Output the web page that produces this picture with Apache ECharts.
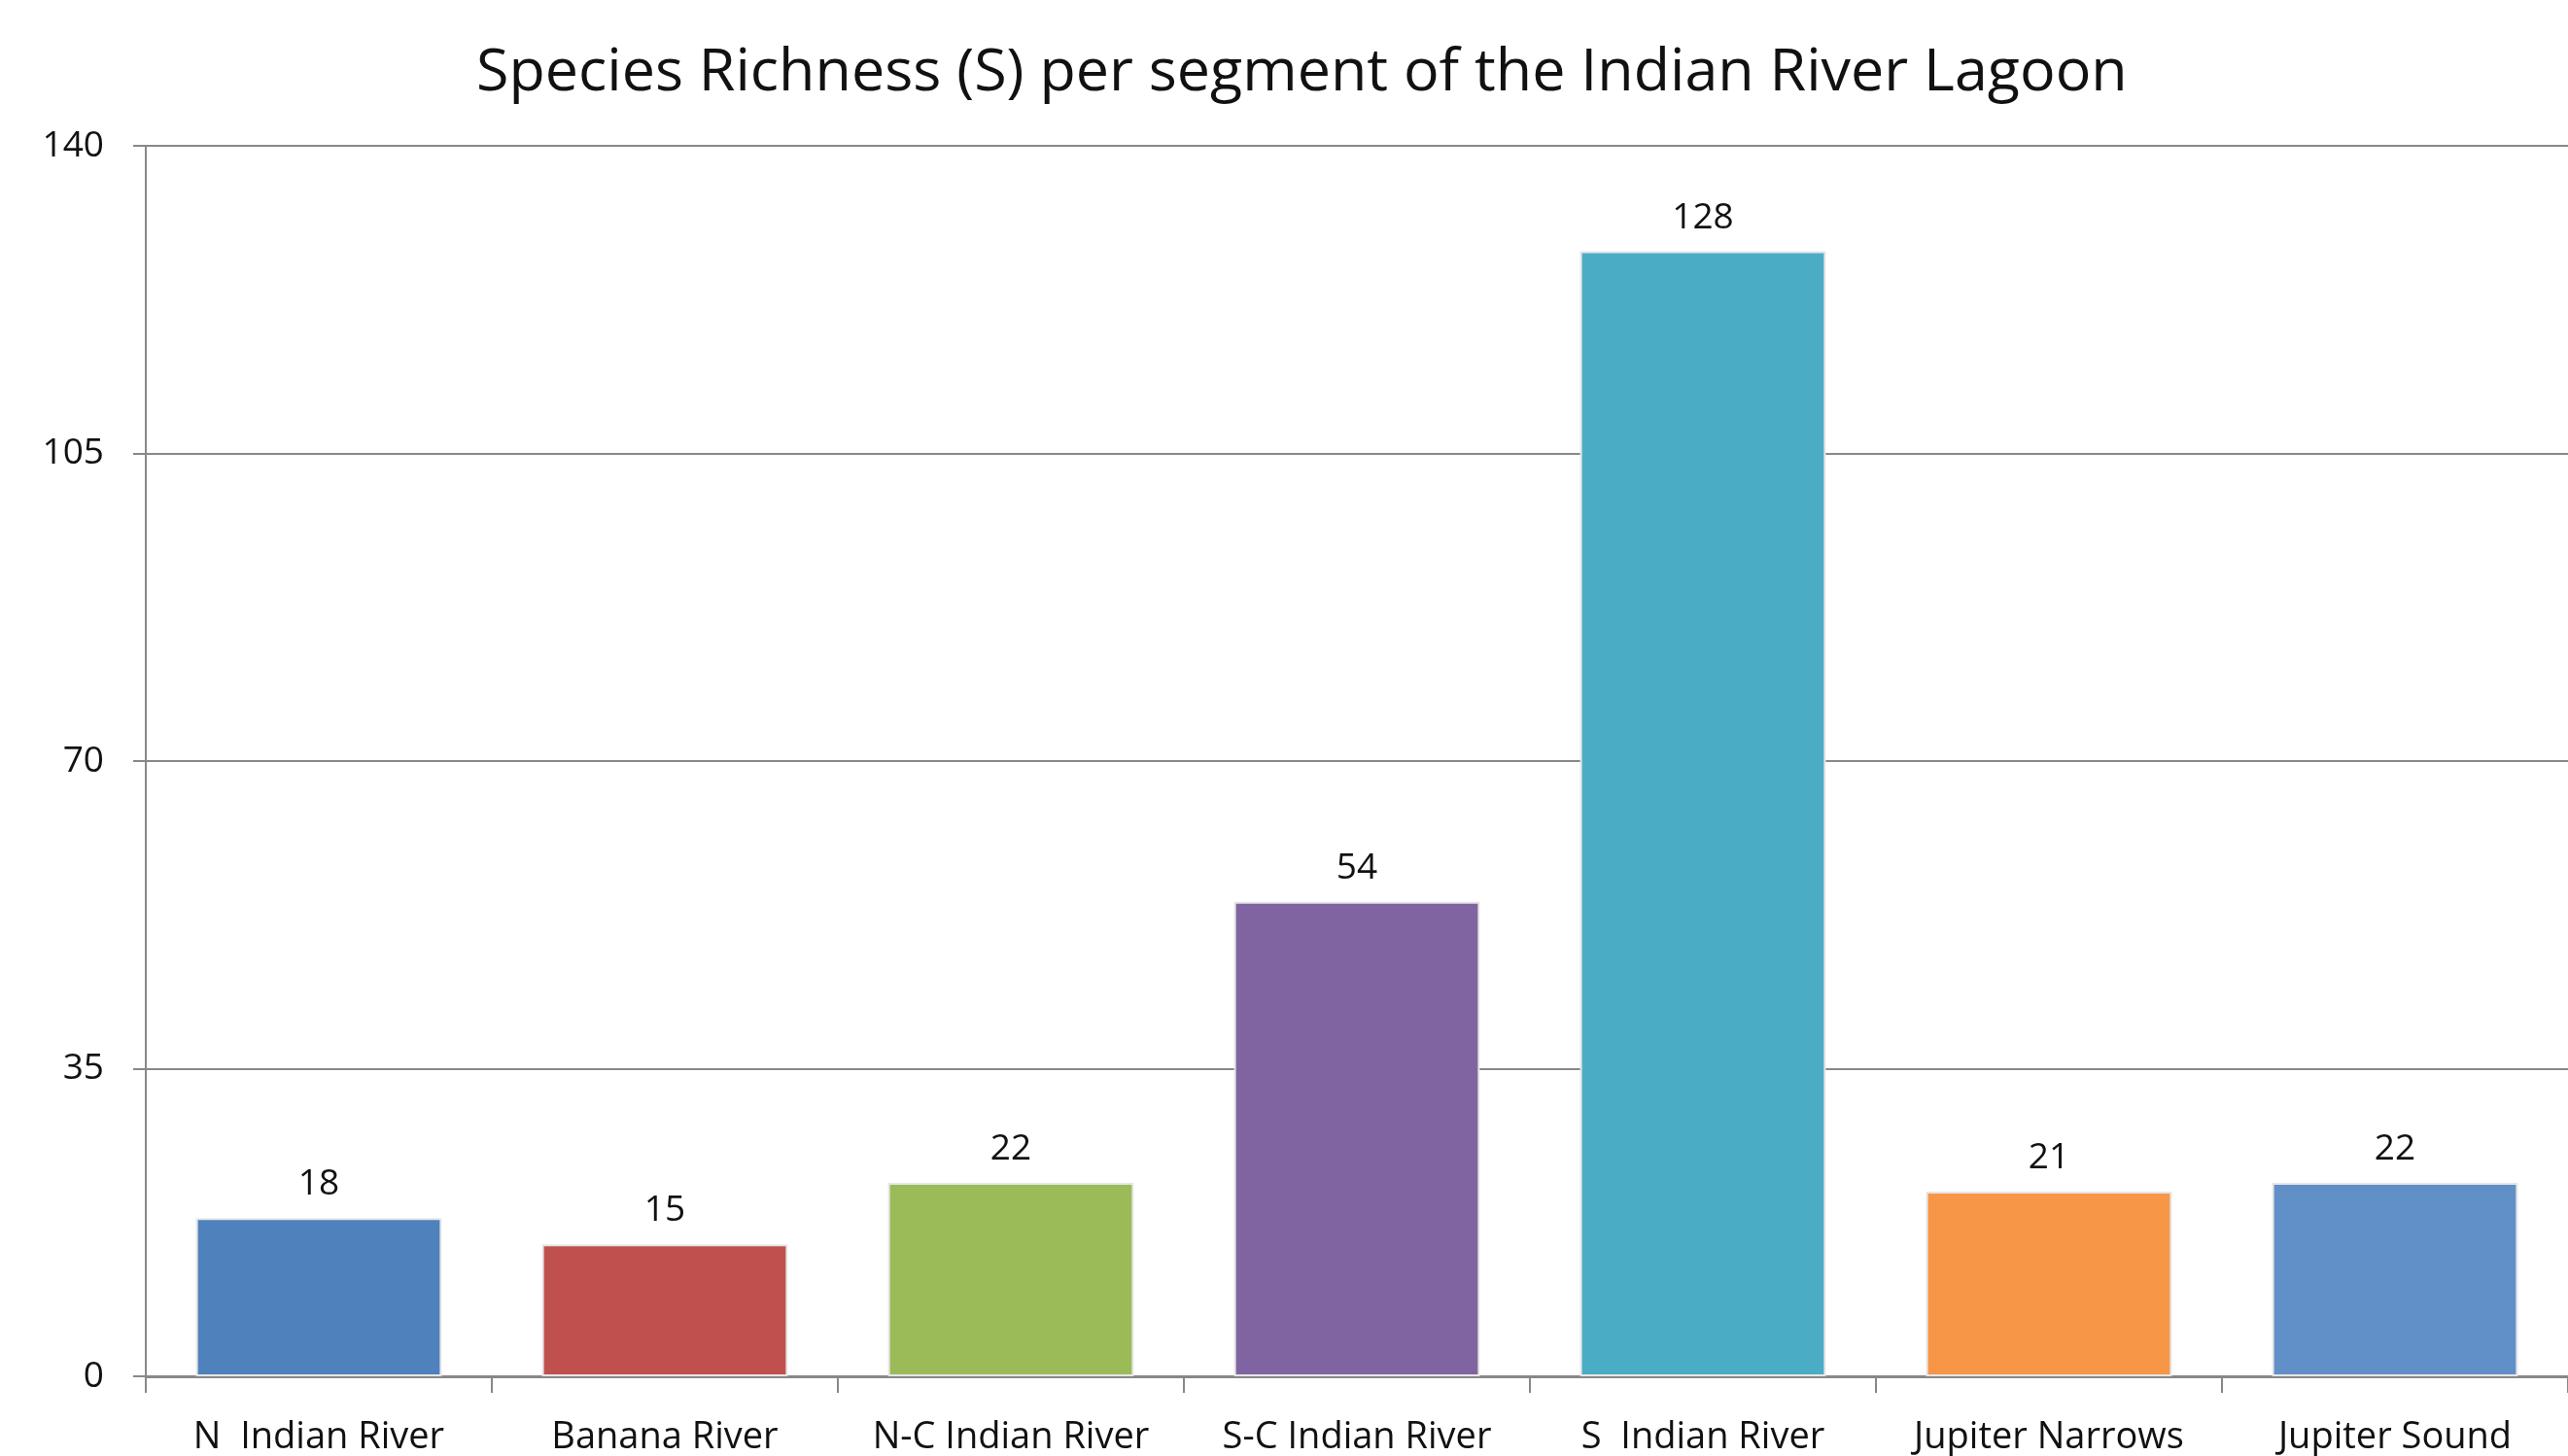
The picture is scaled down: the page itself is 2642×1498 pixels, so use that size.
<!DOCTYPE html>
<html><head><meta charset="utf-8">
<script src="https://cdn.jsdelivr.net/npm/echarts@6/dist/echarts.min.js"></script>
<style>html,body{margin:0;padding:0;background:#fff}#c{width:2642px;height:1498px}</style>
</head><body><div id="c"></div>
<script>
const categories = ['N  Indian River','Banana River','N-C Indian River','S-C Indian River','S  Indian River','Jupiter Narrows','Jupiter Sound'];
const values = [18, 15, 22, 54, 128, 21, 22];
const colors = ['#4F81BD','#C0504D','#9BBB59','#8064A2','#4BACC6','#F79646','#618FC7'];
const yTicks = [0, 35, 70, 105, 140];

const font = 'Open Sans';
const chart = echarts.init(document.getElementById('c'));
chart.setOption({
  backgroundColor: '#fff',
  animation: false,
  title: {
    text: 'Species Richness (S) per segment of the Indian River Lagoon',
    left: 490, top: 45, padding: 0,
    textStyle: {fontFamily: font, fontWeight: 'normal', fontSize: 61, color: '#111'}
  },
  grid: {left: 150, right: -7, top: 150, bottom: 1498 - 1417},
  xAxis: {
    type: 'category', data: categories,
    axisLine: {lineStyle: {color: '#888888', width: 3}},
    axisTick: {show: true, length: 17, lineStyle: {color: '#888888', width: 2}},
    axisLabel: {fontFamily: font, fontSize: 38, color: '#111', margin: 44, interval: 0}
  },
  yAxis: {
    type: 'value', min: yTicks[0], max: yTicks[yTicks.length-1], interval: 35,
    axisLine: {show: true, lineStyle: {color: '#888888', width: 2}},
    axisTick: {show: true, length: 13, lineStyle: {color: '#888888', width: 2}},
    splitLine: {lineStyle: {color: '#888888', width: 2}},
    axisLabel: {fontFamily: font, fontSize: 37, color: '#111', margin: 43}
  },
  series: [{
    type: 'bar',
    data: values.map((v, i) => ({value: v, itemStyle: {color: colors[i]}})),
    barCategoryGap: '29%',
    itemStyle: {borderColor: '#e6e6e6', borderWidth: 2},
    label: {show: true, position: 'top', distance: 16, fontFamily: font, fontSize: 37, color: '#111'}
  }]
});
</script></body></html>
